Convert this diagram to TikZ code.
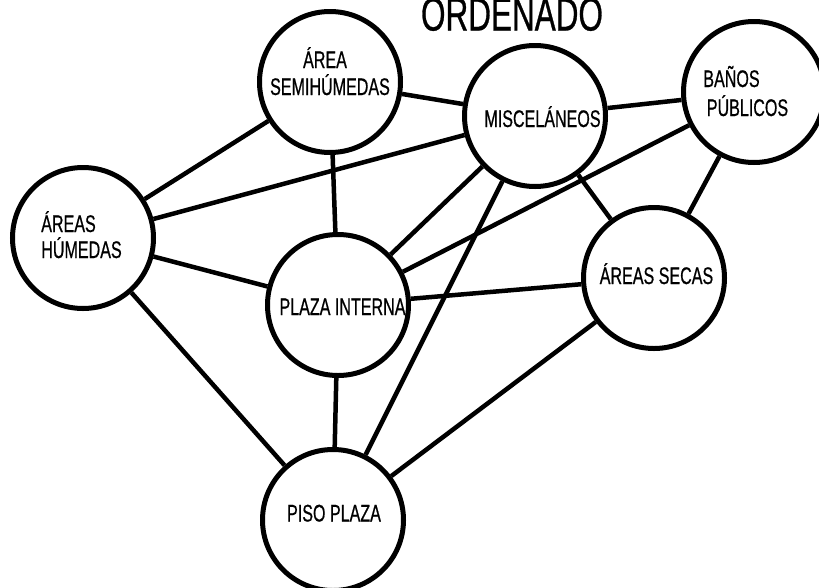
\documentclass[tikz,border=0pt]{standalone}
\usepackage{fontspec}
\setmainfont[FakeStretch=0.67,FakeBold=0.6]{Liberation Sans}
\begin{document}
\begin{tikzpicture}[x=1pt,y=-1pt,
  bubble/.style={circle,draw=black,line width=5pt,fill=white,minimum size=141pt,inner sep=0pt},
  link/.style={draw=black,line width=4.5pt},
  lbl/.style={anchor=base,inner sep=0pt,font=\fontsize{24}{28}\selectfont}]
\useasboundingbox (0,0) rectangle (819,587);
\node[anchor=base,inner sep=0pt,font=\fontsize{47}{52}\selectfont] (title) at (512,30.5) {ORDENADO};
\coordinate (csemi) at (330,82);
\coordinate (cmisc) at (535,116);
\coordinate (cbanos) at (754,92);
\coordinate (chum) at (83,238);
\coordinate (cplaza) at (338,305);
\coordinate (csecas) at (654,278);
\coordinate (cpiso) at (333,520);
\node[bubble] (semi) at (csemi) {};
\node[bubble] (misc) at (cmisc) {};
\node[bubble] (banos) at (cbanos) {};
\node[bubble] (hum) at (chum) {};
\node[bubble] (plaza) at (cplaza) {};
\node[bubble] (secas) at (csecas) {};
\node[bubble] (piso) at (cpiso) {};
\path[link] (semi) -- (misc);
\path[link] (misc) -- (banos);
\path[link] (semi) -- (hum);
\path[link] (misc) -- (hum);
\path[link] (semi) -- (plaza);
\path[link] (misc) -- (plaza);
\path[link] (banos) -- (plaza);
\path[link] (misc) -- (secas);
\path[link] (banos) -- (secas);
\path[link] (misc) -- (piso);
\path[link] (hum) -- (plaza);
\path[link] (plaza) -- (secas);
\path[link] (hum) -- (piso);
\path[link] (plaza) -- (piso);
\path[link] (secas) -- (piso);
\node[lbl] (semi1) at (325,68) {ÁREA};
\node[lbl] (semi2) at (330,95) {SEMIHÚMEDAS};
\node[lbl] (misc1) at (542.5,127) {MISCELÁNEOS};
\node[lbl] (banos1) at (731.5,87) {BAÑOS};
\node[lbl] (banos2) at (747.5,116) {PÚBLICOS};
\node[lbl] (hum1) at (68.5,232) {ÁREAS};
\node[lbl] (hum2) at (81.5,258) {HÚMEDAS};
\node[lbl] (plaza1) at (342.5,315) {PLAZA INTERNA};
\node[lbl] (secas1) at (656.5,284) {ÁREAS SECAS};
\node[lbl] (piso1) at (334,521.5) {PISO PLAZA};
\end{tikzpicture}
\end{document}
